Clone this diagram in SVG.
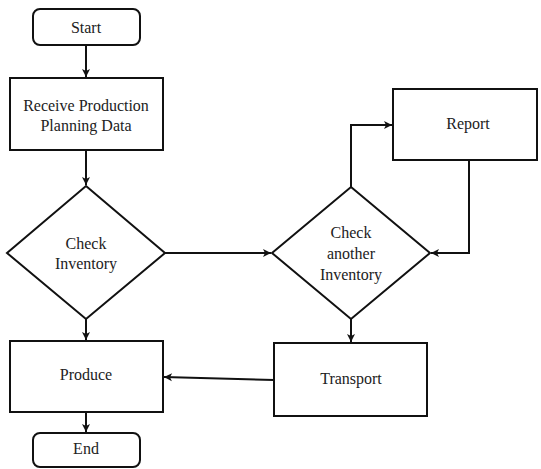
<svg xmlns="http://www.w3.org/2000/svg" width="541" height="469" viewBox="0 0 541 469">
<defs>
<style>
.n{fill:#fff;stroke:#111;stroke-width:2}
.t{font-family:"Liberation Serif","Times New Roman",serif;font-size:16px;fill:#222;text-anchor:middle}
.c{fill:none;stroke:#111;stroke-width:2}
</style>
<marker id="ah" markerWidth="10" markerHeight="10" refX="9" refY="5" orient="auto" markerUnits="userSpaceOnUse">
<path d="M1,1 L9,5 L1,9 L3,5 z" fill="#111"/>
</marker>
</defs>
<rect width="541" height="469" fill="#fff"/>
<g id="start"><rect class="n" x="33" y="9" width="107" height="36" rx="7"/><text class="t" x="86" y="33">Start</text></g>
<g id="receive"><rect class="n" x="10" y="78" width="153" height="72"/><text class="t" x="86" y="111">Receive Production</text><text class="t" x="86" y="131">Planning Data</text></g>
<g id="check1"><polygon class="n" points="86,186 165,253 86,319 7,253"/><text class="t" x="86" y="249">Check</text><text class="t" x="86" y="269">Inventory</text></g>
<g id="check2"><polygon class="n" points="351,187 430,253 351,319 272,253"/><text class="t" x="351" y="238">Check</text><text class="t" x="351" y="259">another</text><text class="t" x="351" y="280">Inventory</text></g>
<g id="report"><rect class="n" x="393" y="89" width="144" height="71"/><text class="t" x="468" y="129">Report</text></g>
<g id="produce"><rect class="n" x="10" y="341" width="153" height="71"/><text class="t" x="86" y="380">Produce</text></g>
<g id="transport"><rect class="n" x="274" y="343" width="153" height="73"/><text class="t" x="351" y="384">Transport</text></g>
<g id="end"><rect class="n" x="33" y="433" width="107" height="34" rx="7"/><text class="t" x="86" y="454">End</text></g>
<g id="connectors">
<line class="c" x1="86" y1="45" x2="86" y2="77" marker-end="url(#ah)"/>
<line class="c" x1="86" y1="150" x2="86" y2="185" marker-end="url(#ah)"/>
<line class="c" x1="165" y1="253" x2="271" y2="253" marker-end="url(#ah)"/>
<polyline class="c" points="351,187 351,125 392,125" marker-end="url(#ah)"/>
<polyline class="c" points="469,160 469,253 431,253" marker-end="url(#ah)"/>
<line class="c" x1="86" y1="319" x2="86" y2="340" marker-end="url(#ah)"/>
<line class="c" x1="351" y1="319" x2="351" y2="342" marker-end="url(#ah)"/>
<line class="c" x1="274" y1="380" x2="164" y2="377" marker-end="url(#ah)"/>
<line class="c" x1="86" y1="412" x2="86" y2="432" marker-end="url(#ah)"/>
</g>
</svg>
